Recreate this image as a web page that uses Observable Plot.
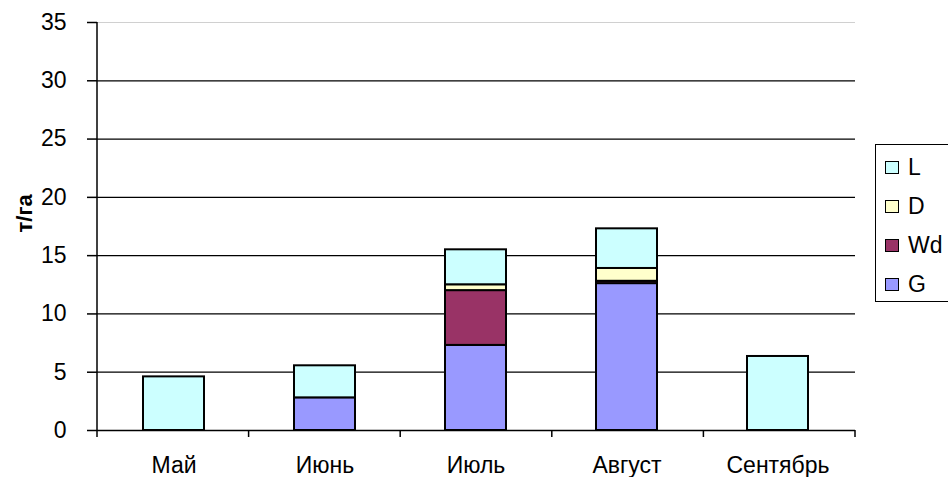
<!DOCTYPE html>
<html><head><meta charset="utf-8">
<script src="https://cdn.jsdelivr.net/npm/d3@7"></script>
<script src="https://cdn.jsdelivr.net/npm/@observablehq/plot@0.6"></script>
<style>
html,body{margin:0;padding:0;background:#fff;overflow:hidden;width:948px;height:477px}
#wrap{position:relative;width:948px;height:477px;font-family:"Liberation Sans",Arial,sans-serif}
#legend{position:absolute;left:875px;top:144px;width:90px;height:158px;border:1.5px solid #000;box-sizing:border-box;background:#fff}
.item{position:absolute;left:9px;height:24px;display:flex;align-items:center;font-size:23px;color:#000}
.sw{width:14px;height:13px;border:1.5px solid #000;margin-right:9px;box-sizing:border-box}
</style></head><body><div id="wrap"></div>
<script>
const months = ["Май","Июнь","Июль","Август","Сентябрь"];
const seriesNames = ["G","Wd","D","L"];
const seriesColors = ["#9999FF","#993366","#FFFFCC","#CCFFFF"];
const G  = [0, 2.8, 7.3, 12.6, 0];
const Wd = [0, 0, 4.7, 0.2, 0];
const D  = [0, 0, 0.5, 1.1, 0];
const L  = [4.6, 2.75, 3.0, 3.4, 6.35];
const yTicks = [0,5,10,15,20,25,30,35];
const yLabel = "т/га";
const legendOrder = ["L","D","Wd","G"];

const seriesValues = {G, Wd, D, L};
const rows = [];
for (const s of seriesNames) months.forEach((m,i) => { if (seriesValues[s][i] > 0) rows.push({month:m, series:s, value:seriesValues[s][i]}); });

const frameMark = (index, scales, values, dims) => {
  const g = d3.create("svg:g").attr("stroke","#000").attr("stroke-width",1.5);
  const x0 = dims.marginLeft, x1 = dims.width - dims.marginRight;
  const y0 = scales.y(0), yTop = scales.y(35);
  g.append("line").attr("x1",x0).attr("x2",x0).attr("y1",yTop).attr("y2",y0);
  const n = months.length;
  for (let i=0;i<=n;i++){ const xx = x0 + (x1-x0)*i/n; g.append("line").attr("x1",xx).attr("x2",xx).attr("y1",y0).attr("y2",y0+7); }
  return g.node();
};

const chart = Plot.plot({
  width:948, height:477, marginLeft:97, marginRight:93, marginTop:22, marginBottom:47,
  style:{fontFamily:'"Liberation Sans", Arial, sans-serif', fontSize:"23px", background:"white", color:"#000", overflow:"visible"},
  x:{domain:months, paddingInner:0.595, paddingOuter:0.2975, label:null},
  y:{domain:[0,35], label:null},
  color:{domain:seriesNames, range:seriesColors},
  marks:[
    Plot.ruleY(yTicks.filter(d => d>0 && d<35), {stroke:"#000", strokeWidth:1.3}),
    Plot.ruleY([35], {stroke:"#d0d0d0", strokeWidth:1}),
    Plot.barY(rows, {x:"month", y:"value", fill:"series", stroke:"#000", strokeWidth:2, order:seriesNames}),
    Plot.ruleY([0], {stroke:"#000", strokeWidth:1.5}),
    Plot.axisY({ticks:yTicks, tickSize:10, tickPadding:21, tickFormat:d=>String(d), label:null, stroke:"#000", strokeWidth:1.5, fontSize:23}),
    Plot.axisX({tickSize:0, tickPadding:26, label:null, fontSize:23}),
    frameMark,
    Plot.text([yLabel], {frameAnchor:"left", rotate:-90, dx:-73, dy:6, fontWeight:"bold", fontSize:22, fill:"#000"})
  ]
});
const wrap = document.getElementById("wrap");
wrap.appendChild(chart);
const leg = document.createElement("div");
leg.id = "legend";
legendOrder.forEach((s,i) => {
  const it = document.createElement("div");
  it.className = "item";
  it.style.top = (23 + 39*i - 12 - 1) + "px";
  const sw = document.createElement("span");
  sw.className = "sw";
  sw.style.background = seriesColors[seriesNames.indexOf(s)];
  const tx = document.createElement("span");
  tx.textContent = s;
  it.appendChild(sw); it.appendChild(tx);
  leg.appendChild(it);
});
wrap.appendChild(leg);
</script></body></html>
